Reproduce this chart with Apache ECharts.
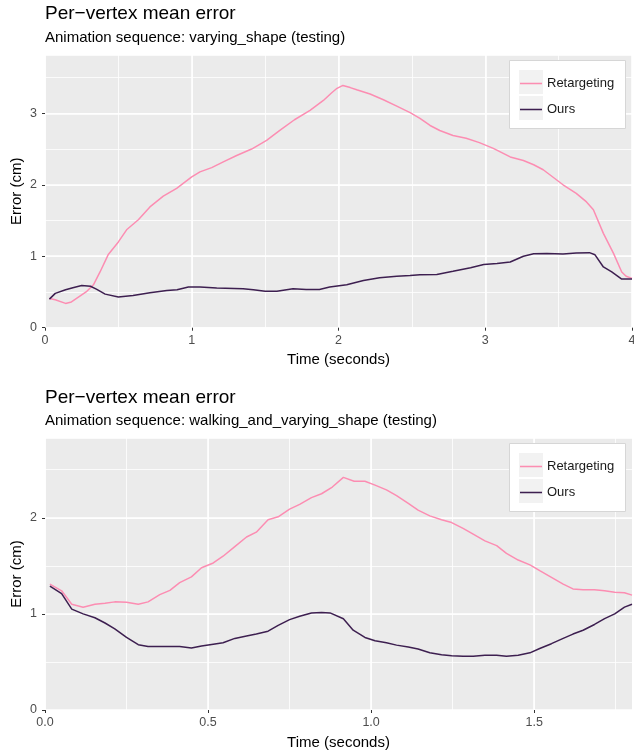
<!DOCTYPE html>
<html><head><meta charset="utf-8">
<script src="https://cdn.jsdelivr.net/npm/echarts@6/dist/echarts.min.js"></script>
<style>html,body{margin:0;padding:0;background:#fff}#c{width:634px;height:756px}</style>
</head><body><div id="c"></div>
<script>
// ---------- data ----------
const seriesNames = ['Retargeting', 'Ours'];
const titles = ['Per\u2212vertex mean error', 'Per\u2212vertex mean error'];
const subtitles = ['Animation sequence: varying_shape (testing)', 'Animation sequence: walking_and_varying_shape (testing)'];

const topRetTime = [0.03,0.07,0.14,0.18,0.23,0.28,0.33,0.375,0.43,0.5,0.556,0.636,0.715,0.806,0.897,1.0,1.056,1.136,1.215,1.306,1.408,1.51,1.6,1.70,1.806,1.897,1.95,1.99,2.03,2.08,2.124,2.215,2.306,2.397,2.488,2.555,2.624,2.69,2.78,2.87,2.96,3.055,3.17,3.26,3.33,3.395,3.44,3.53,3.62,3.69,3.737,3.805,3.874,3.93,3.96,4.0];
const topRetValues = [0.41,0.39,0.34,0.36,0.43,0.50,0.60,0.78,1.02,1.20,1.37,1.51,1.69,1.84,1.95,2.11,2.18,2.24,2.32,2.41,2.50,2.62,2.76,2.91,3.04,3.18,3.28,3.35,3.39,3.36,3.33,3.27,3.19,3.10,3.01,2.93,2.83,2.76,2.69,2.65,2.59,2.51,2.39,2.34,2.28,2.21,2.14,2.0,1.88,1.76,1.65,1.32,1.04,0.78,0.72,0.69];
const topOursTime = [0.03,0.07,0.14,0.19,0.25,0.31,0.35,0.41,0.5,0.6,0.715,0.83,0.9,0.977,1.056,1.17,1.35,1.42,1.5,1.58,1.69,1.78,1.87,1.94,2.056,2.17,2.28,2.397,2.488,2.555,2.67,2.78,2.90,2.99,3.08,3.17,3.26,3.33,3.42,3.53,3.62,3.71,3.748,3.805,3.862,3.93,4.0];
const topOursValues = [0.40,0.48,0.53,0.56,0.59,0.58,0.54,0.47,0.43,0.45,0.49,0.52,0.53,0.57,0.57,0.555,0.545,0.53,0.51,0.51,0.545,0.535,0.535,0.57,0.60,0.66,0.70,0.72,0.73,0.74,0.745,0.79,0.84,0.885,0.90,0.92,1.00,1.035,1.04,1.03,1.045,1.05,1.02,0.85,0.78,0.68,0.68];

const botRetTime = [0.015,0.051,0.082,0.117,0.153,0.184,0.214,0.25,0.286,0.316,0.352,0.383,0.413,0.449,0.48,0.516,0.546,0.582,0.618,0.648,0.684,0.715,0.75,0.781,0.817,0.848,0.881,0.915,0.948,0.981,1.012,1.047,1.078,1.114,1.144,1.18,1.216,1.247,1.282,1.313,1.349,1.385,1.415,1.451,1.487,1.517,1.553,1.589,1.619,1.65,1.685,1.716,1.747,1.777,1.8];
const botRetValues = [1.31,1.24,1.10,1.07,1.10,1.11,1.125,1.12,1.10,1.125,1.20,1.245,1.325,1.385,1.48,1.53,1.60,1.70,1.80,1.85,1.98,2.01,2.09,2.14,2.21,2.25,2.32,2.42,2.38,2.38,2.34,2.29,2.23,2.15,2.08,2.02,1.98,1.95,1.89,1.83,1.76,1.71,1.63,1.56,1.51,1.45,1.38,1.31,1.26,1.25,1.25,1.24,1.225,1.22,1.195];
const botOursTime = [0.015,0.051,0.082,0.117,0.153,0.184,0.214,0.25,0.286,0.316,0.383,0.413,0.449,0.48,0.516,0.546,0.582,0.618,0.648,0.684,0.715,0.75,0.781,0.817,0.848,0.874,0.915,0.945,0.981,1.012,1.047,1.078,1.114,1.144,1.18,1.216,1.247,1.282,1.313,1.349,1.385,1.415,1.451,1.487,1.517,1.553,1.589,1.619,1.65,1.685,1.716,1.747,1.777,1.8];
const botOursValues = [1.29,1.21,1.05,1.00,0.96,0.905,0.845,0.755,0.68,0.66,0.66,0.66,0.645,0.665,0.685,0.70,0.745,0.77,0.79,0.82,0.88,0.94,0.975,1.01,1.015,1.01,0.95,0.83,0.755,0.72,0.70,0.675,0.655,0.635,0.595,0.575,0.565,0.56,0.56,0.57,0.57,0.56,0.57,0.595,0.64,0.69,0.745,0.79,0.83,0.89,0.95,1.00,1.07,1.10];

const topXTicks = [0,1,2,3,4];
const topYTicks = [0,1,2,3];
const botXTicks = [0,0.5,1,1.5];
const botYTicks = [0,1,2];

// ---------- styling ----------
const FONT = '"Liberation Sans", Arial, Helvetica, sans-serif';
const PINK = '#FC8DB2';
const DARK = '#3D1F50';
const PANEL = '#EBEBEB';
const LEGEND_LINE = 'path://M0,0 L40,0 L40,2.8 L0,2.8 Z';
const pairs = (t, v) => t.map((x, i) => [x, v[i]]);

function majorX(gi, min, max, interval, ticks, fmt, nameGap) {
  return {
    type: 'value', gridIndex: gi, min, max, interval, position: 'bottom',
    name: 'Time (seconds)', nameLocation: 'middle', nameGap, nameMoveOverlap: false,
    nameTextStyle: { fontFamily: FONT, fontSize: 15, color: '#000' },
    axisLine: { show: false },
    axisTick: { show: true, length: 3, customValues: ticks, lineStyle: { color: '#333', width: 1 } },
    axisLabel: { customValues: ticks, margin: 6, fontFamily: FONT, fontSize: 12.5, color: '#4D4D4D', formatter: fmt },
    splitLine: { show: true, lineStyle: { color: '#fff', width: 1.6 } }
  };
}
function minorX(gi, min, max, interval) {
  return {
    type: 'value', gridIndex: gi, min, max, interval, position: 'top',
    axisLine: { show: false }, axisTick: { show: false }, axisLabel: { show: false },
    splitLine: { show: true, lineStyle: { color: '#fff', width: 0.8 } }
  };
}
function majorY(gi, min, max, interval, ticks) {
  return {
    type: 'value', gridIndex: gi, min, max, interval, position: 'left',
    name: 'Error (cm)', nameLocation: 'middle', nameGap: 21, nameRotate: 90, nameMoveOverlap: false,
    nameTextStyle: { fontFamily: FONT, fontSize: 15, color: '#000' },
    axisLine: { show: false },
    axisTick: { show: true, length: 3, customValues: ticks, lineStyle: { color: '#333', width: 1 } },
    axisLabel: { customValues: ticks, margin: 8, fontFamily: FONT, fontSize: 12.5, color: '#4D4D4D', formatter: v => String(v) },
    splitLine: { show: true, lineStyle: { color: '#fff', width: 1.6 } }
  };
}
function minorY(gi, min, max, interval) {
  return {
    type: 'value', gridIndex: gi, min, max, interval, position: 'right',
    axisLine: { show: false }, axisTick: { show: false }, axisLabel: { show: false },
    splitLine: { show: true, lineStyle: { color: '#fff', width: 0.8 } }
  };
}
function lineSeries(name, color, xi, yi, data) {
  return {
    type: 'line', name, xAxisIndex: xi, yAxisIndex: yi, data,
    showSymbol: false, symbol: 'none', smooth: false,
    lineStyle: { color, width: 1.5 }, itemStyle: { color }, z: 5
  };
}
function legendBox(top) {
  return [
    { type: 'rect', z: 1, shape: { x: 509.5, y: top + 0.5, width: 116, height: 68 }, style: { fill: '#fff', stroke: '#D6D6D6', lineWidth: 1 } },
    { type: 'rect', z: 2, shape: { x: 519, y: top + 10, width: 24, height: 24 }, style: { fill: '#F2F2F2' } },
    { type: 'rect', z: 2, shape: { x: 519, y: top + 36, width: 24, height: 24 }, style: { fill: '#F2F2F2' } }
  ];
}
function legend(top) {
  return {
    orient: 'vertical', left: 520, top: top + 17, padding: 0,
    itemWidth: 22, itemHeight: 24, itemGap: 13,
    icon: LEGEND_LINE, symbolKeepAspect: true,
    data: seriesNames, selectedMode: false,
    textStyle: { fontFamily: FONT, fontSize: 13, color: '#1A1A1A' }
  };
}
function titleItem(text, top, size) {
  return { text, left: 45, top, padding: 0, textStyle: { fontFamily: FONT, fontSize: size, fontWeight: 'normal', color: '#000' } };
}

const option = {
  animation: false,
  backgroundColor: '#fff',
  title: [
    titleItem(titles[0], 4, 19),
    titleItem(subtitles[0], 30, 15),
    titleItem(titles[1], 388, 19),
    titleItem(subtitles[1], 413, 15)
  ],
  legend: [legend(60), legend(443)],
  graphic: { elements: [...legendBox(60), ...legendBox(443)] },
  grid: [
    { left: 45, right: 2, top: 55, bottom: 428.3, show: true, backgroundColor: PANEL, borderWidth: 0, containLabel: false, outerBoundsMode: 'none' },
    { left: 45, right: 2, top: 438, bottom: 46, show: true, backgroundColor: PANEL, borderWidth: 0, containLabel: false, outerBoundsMode: 'none' }
  ],
  xAxis: [
    minorX(0, 0, 4, 0.5),
    majorX(0, 0, 4, 1, topXTicks, v => String(v), 25),
    minorX(1, 0, 1.8, 0.25),
    majorX(1, 0, 1.8, 0.5, botXTicks, v => v.toFixed(1), 25)
  ],
  yAxis: [
    minorY(0, 0, 3.816, 0.5),
    majorY(0, 0, 3.816, 1, topYTicks),
    minorY(1, 0, 2.83, 0.5),
    majorY(1, 0, 2.83, 1, botYTicks)
  ],
  series: [
    lineSeries(seriesNames[0], PINK, 1, 1, pairs(topRetTime, topRetValues)),
    lineSeries(seriesNames[1], DARK, 1, 1, pairs(topOursTime, topOursValues)),
    lineSeries(seriesNames[0], PINK, 3, 3, pairs(botRetTime, botRetValues)),
    lineSeries(seriesNames[1], DARK, 3, 3, pairs(botOursTime, botOursValues))
  ]
};
const chart = echarts.init(document.getElementById('c'), null, { renderer: 'canvas' });
chart.setOption(option);
</script>
</body></html>
